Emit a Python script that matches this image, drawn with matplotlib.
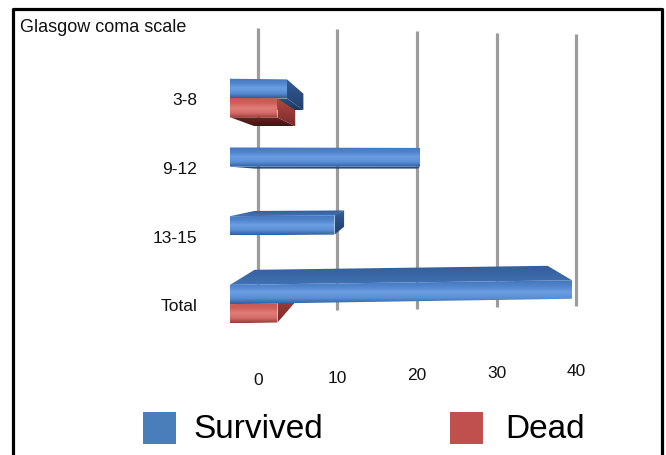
import numpy as np
import matplotlib
matplotlib.use('Agg')
import matplotlib.pyplot as plt
from matplotlib.patches import Polygon, Rectangle
from matplotlib.colors import LinearSegmentedColormap

categories = ['3-8', '9-12', '13-15', 'Total']
survived = [6, 20, 11, 36]
dead = [5, 0, 0, 5]
ticks = [0, 10, 20, 30, 40]
series = ['Survived', 'Dead']
axis_title = 'Glasgow coma scale'

plt.rcParams['font.family'] = ['Liberation Sans', 'DejaVu Sans']

W, H = 666, 455
fig = plt.figure(figsize=(W / 100, H / 100), dpi=100)
ax = fig.add_axes([0, 0, 1, 1])
ax.axis('off')

# front plane of the bars: value 0 at x=230px, 9.5px per unit, rows 68.7px apart
PX_X0, PX_PER_UNIT = 230, 9.5
PX_Y0, PX_PER_ROW = 98, 68.7
xlim = (-PX_X0 / PX_PER_UNIT, (W - PX_X0) / PX_PER_UNIT)
ylim = ((H - PX_Y0) / PX_PER_ROW, -PX_Y0 / PX_PER_ROW)

# simple perspective: points shrink toward (CX, CY) as they go back
CX, CY = 18.06, 1.19
BAR_BACK, WALL = 0.857, 0.837
TILT_Y, TILT = 1.03, 0.0011
HALF = 0.28


def project(v, r, f):
    x = CX + (v - CX) * f
    y = CY + (r - CY) * f
    y = TILT_Y + (y - TILT_Y) * (1 - TILT * v)
    return x, y


zc = [2]


def fill_grad(poly, colors):
    z = zc[0]
    zc[0] += 0.01
    patch = Polygon(poly, closed=True, facecolor='none', edgecolor='none', zorder=z)
    ax.add_patch(patch)
    xs = [p[0] for p in poly]
    ys = [p[1] for p in poly]
    cmap = LinearSegmentedColormap.from_list('g', colors)
    grad = np.linspace(0, 1, 128).reshape(-1, 1)
    im = ax.imshow(grad, cmap=cmap, extent=(min(xs), max(xs), max(ys), min(ys)),
                   origin='upper', aspect='auto', zorder=z, interpolation='bilinear')
    im.set_clip_path(patch)


styles = {
    'Survived': dict(front=['#4575ba', '#4f84cc', '#6b9ee2', '#5a8fd6', '#2f5d9c'],
                     top=['#325d98', '#4272b5'], under=['#2d5289', '#1b355c'],
                     end=['#335d98', '#223f6b']),
    'Dead': dict(front=['#c45855', '#cf605c', '#e27d79', '#d46c68', '#9a3a37'],
                 top=['#a5413e', '#c0504d'], under=['#6a2524', '#3e1414'],
                 end=['#b04946', '#7c2c2a']),
}


def draw_bar(v, rt, rb, st):
    if v <= 0:
        return
    if rt > CY:
        fill_grad([project(0, rt, BAR_BACK), project(v, rt, BAR_BACK),
                   project(v, rt, 1), project(0, rt, 1)], st['top'])
    if rb < CY:
        fill_grad([project(0, rb, 1), project(v, rb, 1),
                   project(v, rb, BAR_BACK), project(0, rb, BAR_BACK)], st['under'])
    if v < CX:
        fill_grad([project(v, rt, 1), project(v, rt, BAR_BACK),
                   project(v, rb, BAR_BACK), project(v, rb, 1)], st['end'])


def draw_front(v, rt, rb, st):
    if v <= 0:
        return
    fill_grad([project(0, rt, 1), project(v, rt, 1),
               project(v, rb, 1), project(0, rb, 1)], st['front'])


# gridlines on the back wall
for t in ticks:
    x0, y0 = project(t, -1.45, WALL)
    x1, y1 = project(t, 3.49, WALL)
    ax.plot([x0, x1], [y0, y1], color='#9c9c9c', lw=2.3, zorder=1, solid_capstyle='butt')
    tx, ty = project(t, 4.76, WALL)
    ax.text(tx, ty, str(t), ha='center', va='baseline', fontsize=12.5, color='#111111')

for i, cat in enumerate(categories):
    r = i
    draw_bar(survived[i], r - HALF, r, styles['Survived'])
    draw_bar(dead[i], r, r + HALF, styles['Dead'])
    draw_front(survived[i], r - HALF, r, styles['Survived'])
    draw_front(dead[i], r, r + HALF, styles['Dead'])
    ax.text(-3.47, r + 0.04, cat, ha='right', va='center', fontsize=12.5, color='#111111')

ax.set_xlim(xlim)
ax.set_ylim(ylim)

fig.text(20 / W, 1 - 28 / H, axis_title, ha='left', va='center', fontsize=13, color='#111111')

# legend
legend_colors = ['#4a7ebb', '#c0504d']
legend_box_x = [143, 450]
legend_text_x = [193, 505]
for name, col, bx, tx in zip(series, legend_colors, legend_box_x, legend_text_x):
    fig.add_artist(Rectangle((bx / W, 1 - 444 / H), 33 / W, 32 / H,
                             transform=fig.transFigure, facecolor=col, edgecolor='none'))
    fig.text(tx / W, 1 - 438 / H, name, ha='left', va='baseline', fontsize=24, color='black')

# outer frame (open at the bottom)
fx = [13 / W, 13 / W, 662 / W, 662 / W]
fy = [0, 1 - 9 / H, 1 - 9 / H, 0]
ax.plot(fx, fy, color='black', lw=2.3, transform=ax.transAxes, clip_on=False, zorder=10)

fig.savefig('out.png', dpi=100)
